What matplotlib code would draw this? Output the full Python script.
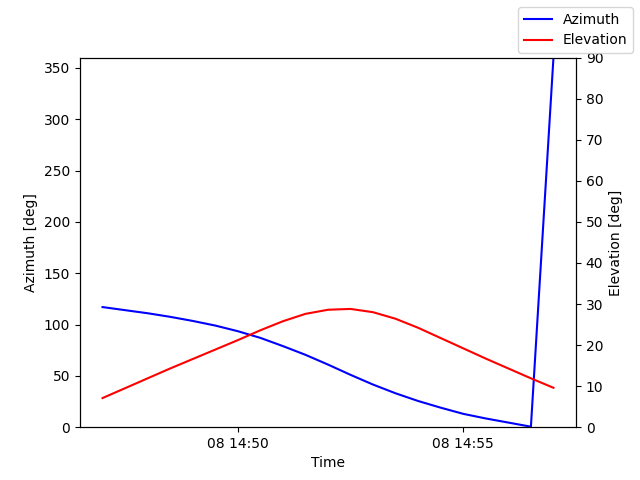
import numpy as np
import pandas as pd
import matplotlib
matplotlib.use('Agg')
import matplotlib.pyplot as plt
import matplotlib.dates as mdates

# %% data, one sample every 30 s
times = pd.date_range('2024-01-08 14:47:00', '2024-01-08 14:57:00', freq='30s')
azimuth = [117, 114, 111, 107.5, 103.5, 99, 93.5, 87, 79, 70.5, 61, 51, 41.5, 33,
           25.5, 19, 13, 8.5, 4.5, 0.5, 359.9]
elevation = [7.1, 9.5, 11.9, 14.3, 16.6, 18.9, 21.2, 23.6, 25.8, 27.6, 28.6, 28.8,
             28.0, 26.4, 24.2, 21.7, 19.2, 16.7, 14.3, 11.9, 9.6]

# %% plot
fig, ax = plt.subplots(figsize=(6.4, 4.8), dpi=100)
ax.plot(times, azimuth, c='blue', label='Azimuth')
ax.set_ylim(0, 360)
ax.set_ylabel('Azimuth [deg]')
ax.set_xlabel('Time')
ax.xaxis.set_major_locator(mdates.MinuteLocator(byminute=range(0, 60, 5)))
ax.xaxis.set_major_formatter(mdates.DateFormatter('%d %H:%M'))

ax2 = ax.twinx()
ax2.plot(times, elevation, c='red', label='Elevation')
ax2.set_ylim(0, 90)
ax2.set_ylabel('Elevation [deg]')

fig.legend(loc='upper right')
fig.savefig('out.png')
